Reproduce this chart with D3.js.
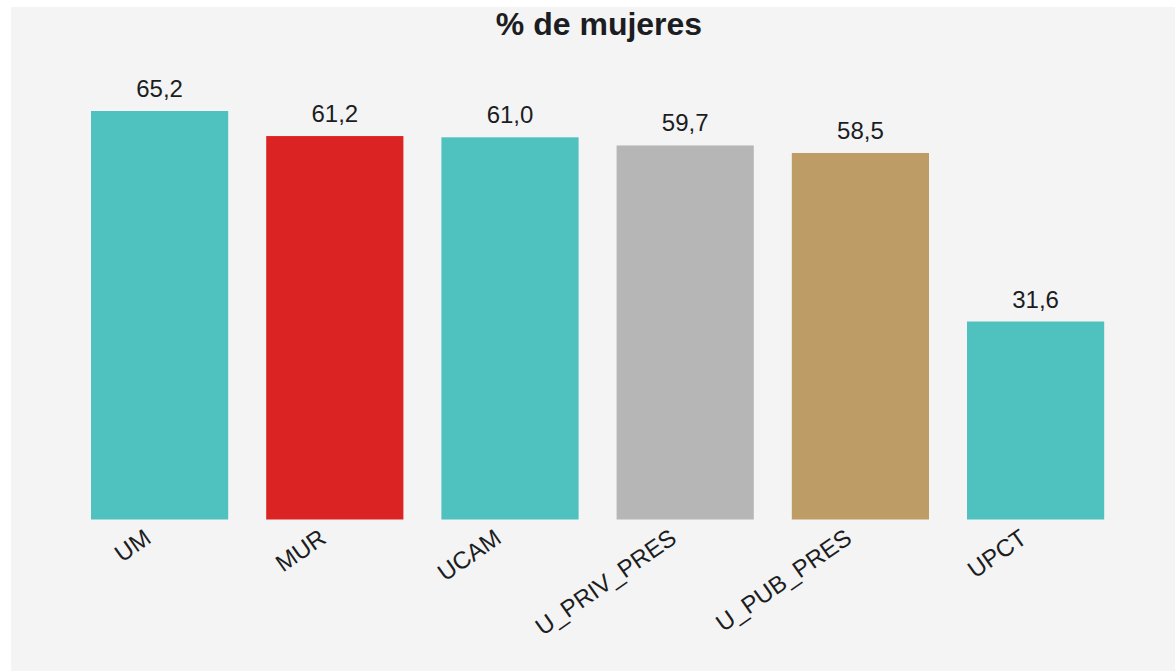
<!DOCTYPE html>
<html><head><meta charset="utf-8">
<script src="https://cdn.jsdelivr.net/npm/d3@7"></script>
<style>html,body{margin:0;padding:0;background:#fff;}svg{display:block;}</style>
</head><body>
<script>
const categories = ["UM","MUR","UCAM","U_PRIV_PRES","U_PUB_PRES","UPCT"];
const values = [65.2, 61.2, 61.0, 59.7, 58.5, 31.6];
const colors = ["#4fc1be","#dc2323","#4fc1be","#b6b6b6","#be9c65","#4fc1be"];
const title = "% de mujeres";

const W = 1175, H = 671;
const svg = d3.select("body").append("svg").attr("width", W).attr("height", H);
svg.append("rect").attr("x", 11).attr("y", 7).attr("width", W - 11).attr("height", H - 7).attr("fill", "#f4f4f4");

const x = d3.scaleBand().domain(categories).range([72, 1123.2]).paddingInner(0.217).paddingOuter(0.1085);
const y = d3.scaleLinear().domain([0, 65.2]).range([519.5, 111]);

const font = "'Liberation Sans', Arial, sans-serif";
svg.append("text").attr("x", 599).attr("y", 35).attr("text-anchor", "middle")
  .attr("font-family", font).attr("font-weight", "bold").attr("font-size", 32).attr("fill", "#1b1d22").text(title);

const data = categories.map((c, i) => ({c, v: values[i], col: colors[i]}));
svg.selectAll("rect.bar").data(data).join("rect").attr("class", "bar")
  .attr("x", d => x(d.c)).attr("width", x.bandwidth())
  .attr("y", d => y(d.v)).attr("height", d => y(0) - y(d.v)).attr("fill", d => d.col);

svg.selectAll("text.val").data(data).join("text").attr("class", "val")
  .attr("x", d => x(d.c) + x.bandwidth() / 2).attr("y", d => y(d.v) - 14)
  .attr("text-anchor", "middle").attr("font-family", font).attr("font-size", 24).attr("fill", "#1b1d22")
  .text(d => d3.format(".1f")(d.v).replace(".", ","));

const axis = d3.axisBottom(x).tickSize(0).tickPadding(0);
const g = svg.append("g").attr("transform", `translate(0,${y(0)})`).call(axis);
g.select(".domain").remove();
g.selectAll("text").attr("font-family", font).attr("font-size", 24).attr("fill", "#1b1d22")
  .attr("text-anchor", "end").attr("dy", 0).attr("y", 0)
  .attr("transform", "translate(-7,22) rotate(-35)");
</script>
</body></html>
